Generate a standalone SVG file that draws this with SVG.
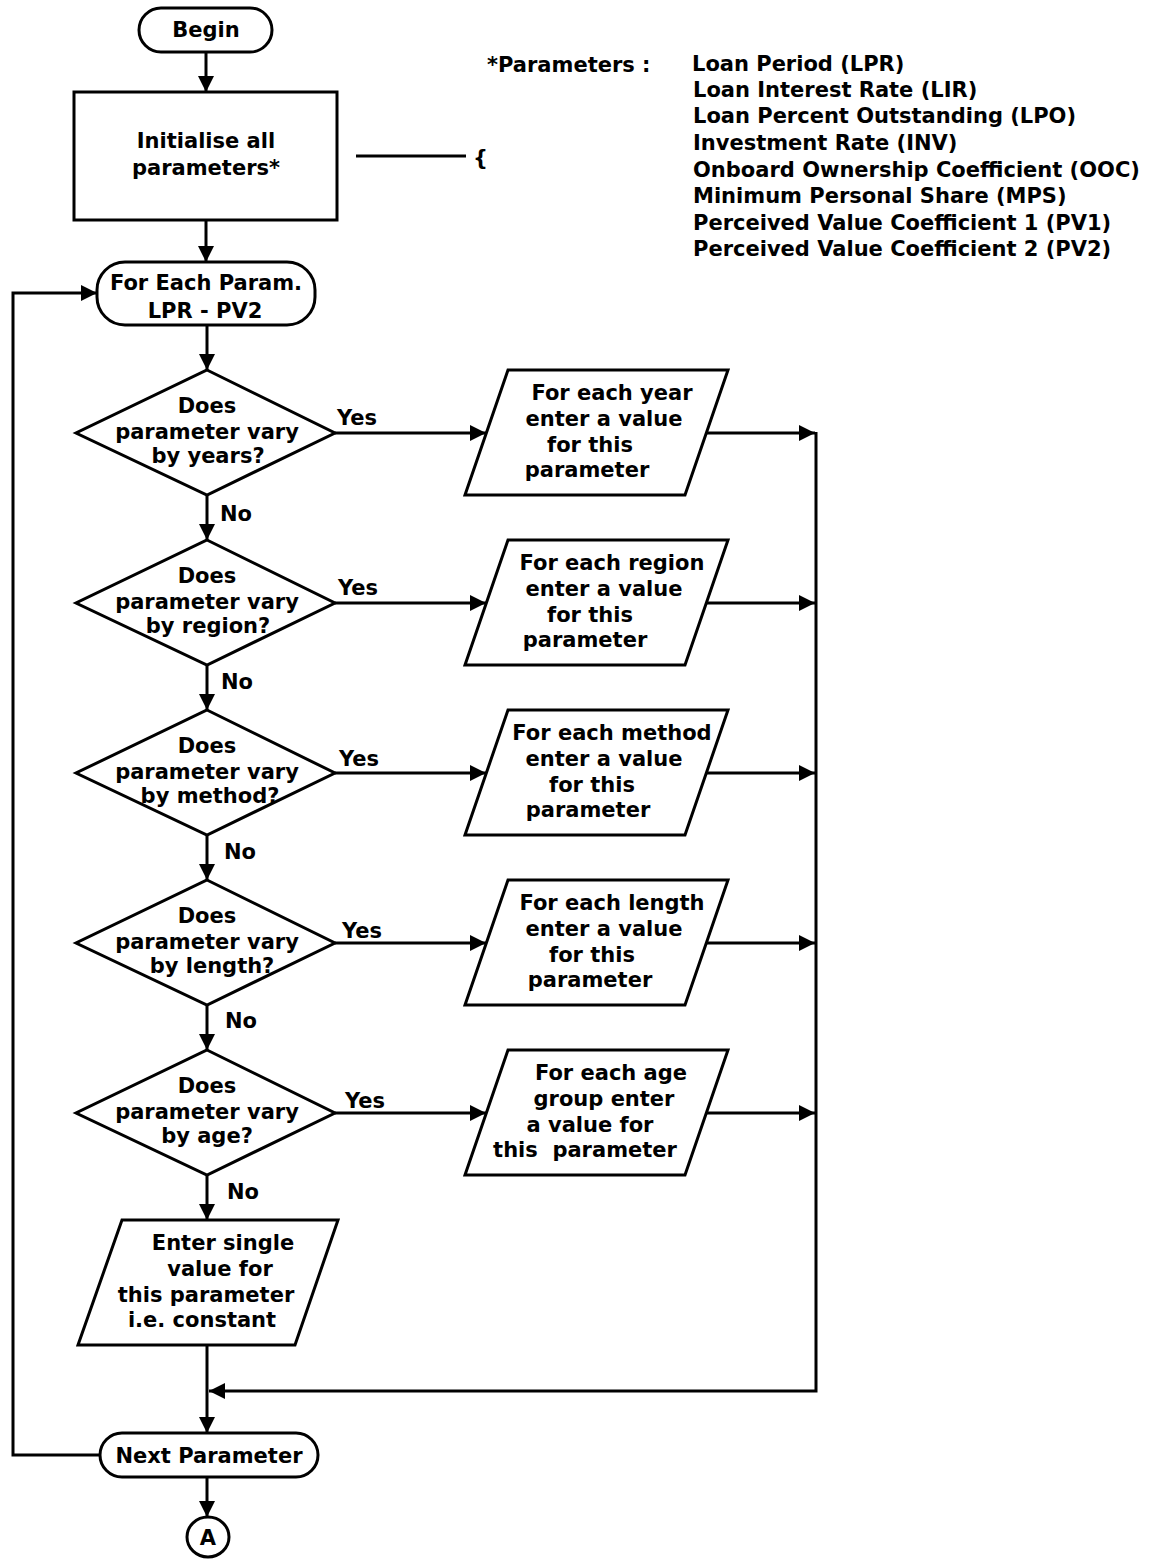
<svg xmlns="http://www.w3.org/2000/svg" width="1165" height="1560" viewBox="0 0 1165 1560">
  <style>
    .shape { fill: #fff; stroke: #000; stroke-width: 3; stroke-linejoin: miter; }
    .wire { fill: none; stroke: #000; stroke-width: 3; }
    .arrow { marker-end: url(#head); }
    text { font-family: "DejaVu Sans", "Liberation Sans", sans-serif; font-weight: bold; font-size: 21px; fill: #000; }
    .c { text-anchor: middle; }
  </style>
  <defs>
    <marker id="head" viewBox="0 0 16 16" refX="16" refY="8" markerWidth="16" markerHeight="16" markerUnits="userSpaceOnUse" orient="auto">
      <path d="M0,0 L16,8 L0,16 z" fill="#000"/>
    </marker>
  </defs>
  <rect width="1165" height="1560" fill="#fff"/>

  <!-- connectors -->
  <g id="connectors">
    <line class="wire arrow" x1="206" y1="52" x2="206" y2="92"/>
    <line class="wire arrow" x1="206" y1="220" x2="206" y2="262"/>
    <line class="wire" x1="356" y1="156" x2="466" y2="156"/>
    <line class="wire arrow" x1="207" y1="325" x2="207" y2="370"/>
    <line class="wire arrow" x1="207" y1="495" x2="207" y2="540"/>
    <line class="wire arrow" x1="207" y1="665" x2="207" y2="710"/>
    <line class="wire arrow" x1="207" y1="835" x2="207" y2="880"/>
    <line class="wire arrow" x1="207" y1="1005" x2="207" y2="1050"/>
    <line class="wire arrow" x1="207" y1="1175" x2="207" y2="1220"/>
    <line class="wire arrow" x1="207" y1="1345" x2="207" y2="1433"/>
    <line class="wire arrow" x1="207" y1="1477" x2="207" y2="1517"/>
    <!-- Yes branches -->
    <line class="wire arrow" x1="335" y1="433" x2="486" y2="433"/>
    <line class="wire arrow" x1="335" y1="603" x2="486" y2="603"/>
    <line class="wire arrow" x1="335" y1="773" x2="486" y2="773"/>
    <line class="wire arrow" x1="335" y1="943" x2="486" y2="943"/>
    <line class="wire arrow" x1="335" y1="1113" x2="486" y2="1113"/>
    <!-- outputs to collector -->
    <line class="wire arrow" x1="706" y1="433" x2="815" y2="433"/>
    <line class="wire arrow" x1="706" y1="603" x2="815" y2="603"/>
    <line class="wire arrow" x1="706" y1="773" x2="815" y2="773"/>
    <line class="wire arrow" x1="706" y1="943" x2="815" y2="943"/>
    <line class="wire arrow" x1="706" y1="1113" x2="815" y2="1113"/>
    <path class="wire arrow" d="M816,432 V1391 H209"/>
    <!-- loop back -->
    <path class="wire arrow" d="M100,1455 H13 V293 H97"/>
  </g>

  <!-- branch labels -->
  <g id="labels">
    <text x="337" y="425">Yes</text>
    <text x="338" y="595">Yes</text>
    <text x="339" y="766">Yes</text>
    <text x="342" y="938">Yes</text>
    <text x="345" y="1108">Yes</text>
    <text x="220" y="521">No</text>
    <text x="221" y="689">No</text>
    <text x="224" y="859">No</text>
    <text x="225" y="1028">No</text>
    <text x="227" y="1199">No</text>
  </g>

  <g id="begin">
    <rect class="shape" x="139" y="8" width="133" height="44" rx="22" ry="22"/>
    <text class="c" x="206" y="37">Begin</text>
  </g>

  <g id="init">
    <rect class="shape" x="74" y="92" width="263" height="128"/>
    <text class="c" x="206" y="148">Initialise all</text>
    <text class="c" x="206" y="175">parameters*</text>
  </g>

  <g id="param-note">
    <text x="473" y="165">{</text>
    <text x="487" y="72">*Parameters :</text>
    <text x="692" y="71">Loan Period (LPR)</text>
    <text x="693" y="97">Loan Interest Rate (LIR)</text>
    <text x="693" y="123">Loan Percent Outstanding (LPO)</text>
    <text x="693" y="150">Investment Rate (INV)</text>
    <text x="693" y="177">Onboard Ownership Coefficient (OOC)</text>
    <text x="693" y="203">Minimum Personal Share (MPS)</text>
    <text x="693" y="230">Perceived Value Coefficient 1 (PV1)</text>
    <text x="693" y="256">Perceived Value Coefficient 2 (PV2)</text>
  </g>

  <g id="for-each">
    <rect class="shape" x="97" y="262" width="218" height="63" rx="28" ry="28"/>
    <text class="c" x="206" y="290">For Each Param.</text>
    <text class="c" x="205" y="318">LPR - PV2</text>
  </g>

  <g id="dec-years">
    <polygon class="shape" points="207,370 335,433 207,495 76,433"/>
    <text class="c" x="207" y="413">Does</text>
    <text class="c" x="207" y="439">parameter vary</text>
    <text class="c" x="208" y="463">by years?</text>
  </g>
  <g id="in-years">
    <polygon class="shape" points="508,370 728,370 685,495 465,495"/>
    <text class="c" x="612" y="400">For each year</text>
    <text class="c" x="604" y="426">enter a value</text>
    <text class="c" x="590" y="452">for this</text>
    <text class="c" x="587" y="477">parameter</text>
  </g>

  <g id="dec-region">
    <polygon class="shape" points="207,540 335,603 207,665 76,603"/>
    <text class="c" x="207" y="583">Does</text>
    <text class="c" x="207" y="609">parameter vary</text>
    <text class="c" x="208" y="633">by region?</text>
  </g>
  <g id="in-region">
    <polygon class="shape" points="508,540 728,540 685,665 465,665"/>
    <text class="c" x="612" y="570">For each region</text>
    <text class="c" x="604" y="596">enter a value</text>
    <text class="c" x="590" y="622">for this</text>
    <text class="c" x="585" y="647">parameter</text>
  </g>

  <g id="dec-method">
    <polygon class="shape" points="207,710 335,773 207,835 76,773"/>
    <text class="c" x="207" y="753">Does</text>
    <text class="c" x="207" y="779">parameter vary</text>
    <text class="c" x="210" y="803">by method?</text>
  </g>
  <g id="in-method">
    <polygon class="shape" points="508,710 728,710 685,835 465,835"/>
    <text class="c" x="612" y="740">For each method</text>
    <text class="c" x="604" y="766">enter a value</text>
    <text class="c" x="592" y="792">for this</text>
    <text class="c" x="588" y="817">parameter</text>
  </g>

  <g id="dec-length">
    <polygon class="shape" points="207,880 335,943 207,1005 76,943"/>
    <text class="c" x="207" y="923">Does</text>
    <text class="c" x="207" y="949">parameter vary</text>
    <text class="c" x="212" y="973">by length?</text>
  </g>
  <g id="in-length">
    <polygon class="shape" points="508,880 728,880 685,1005 465,1005"/>
    <text class="c" x="612" y="910">For each length</text>
    <text class="c" x="604" y="936">enter a value</text>
    <text class="c" x="592" y="962">for this</text>
    <text class="c" x="590" y="987">parameter</text>
  </g>

  <g id="dec-age">
    <polygon class="shape" points="207,1050 335,1113 207,1175 76,1113"/>
    <text class="c" x="207" y="1093">Does</text>
    <text class="c" x="207" y="1119">parameter vary</text>
    <text class="c" x="207" y="1143">by age?</text>
  </g>
  <g id="in-age">
    <polygon class="shape" points="508,1050 728,1050 685,1175 465,1175"/>
    <text class="c" x="611" y="1080">For each age</text>
    <text class="c" x="604" y="1106">group enter</text>
    <text class="c" x="590" y="1132">a value for</text>
    <text class="c" x="585" y="1157" xml:space="preserve">this  parameter</text>
  </g>

  <g id="in-constant">
    <polygon class="shape" points="122,1220 338,1220 295,1345 78,1345"/>
    <text class="c" x="223" y="1250">Enter single</text>
    <text class="c" x="220" y="1276">value for</text>
    <text class="c" x="206" y="1302">this parameter</text>
    <text class="c" x="202" y="1327">i.e. constant</text>
  </g>

  <g id="next-param">
    <rect class="shape" x="100" y="1433" width="218" height="44" rx="22" ry="22"/>
    <text class="c" x="209" y="1463">Next Parameter</text>
  </g>

  <g id="connector-a">
    <ellipse class="shape" cx="208" cy="1537" rx="21" ry="20"/>
    <text class="c" x="208" y="1545">A</text>
  </g>
</svg>
